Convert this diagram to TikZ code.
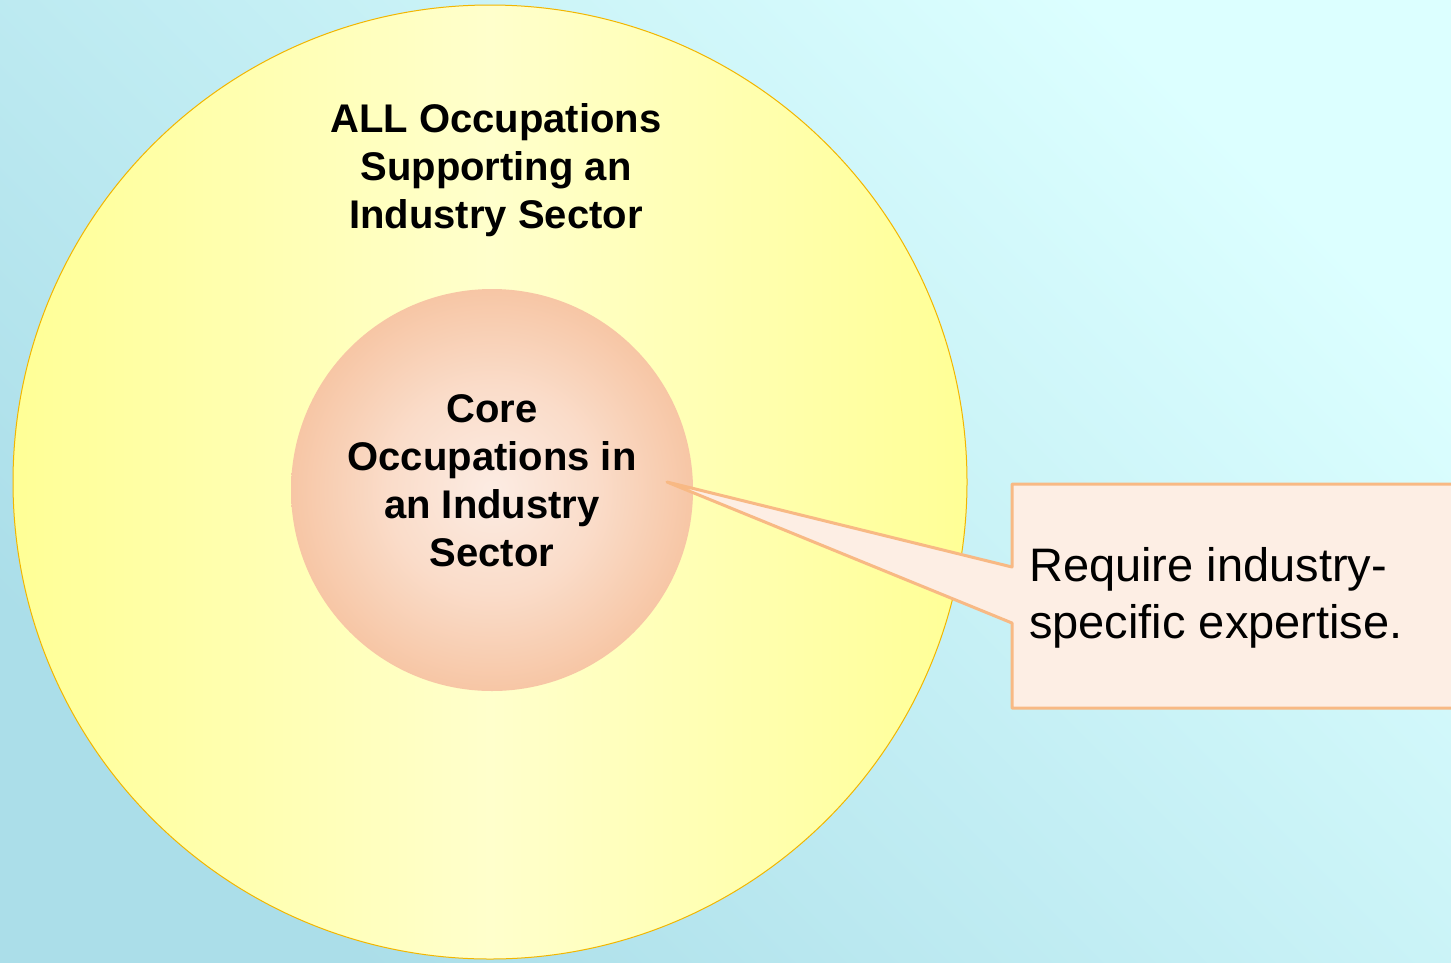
\documentclass[tikz,border=0pt]{standalone}
\usepackage{fontspec}
\setmainfont{Liberation Sans}
\definecolor{bgdark}{HTML}{ABDEE9}
\definecolor{bglight}{HTML}{DCFFFF}
\definecolor{yedge}{HTML}{FFFF96}
\definecolor{ymid}{HTML}{FFFFCC}
\definecolor{yline}{HTML}{F2B600}
\definecolor{pedge}{HTML}{F7C6A5}
\definecolor{pmid}{HTML}{FCECE3}
\definecolor{pmidb}{HTML}{FADCC9}
\definecolor{cfill}{HTML}{FDEEE4}
\definecolor{cline}{HTML}{F8B984}
\pgfdeclareradialshading{innerrad}{\pgfpoint{0bp}{0bp}}{color(0bp)=(pmid); color(13bp)=(pmidb); color(25bp)=(pedge); color(50bp)=(pedge)}
\tikzset{
  bigtext/.style={align=center, inner sep=0pt, font=\bfseries\fontsize{40}{48}\selectfont},
  calltext/.style={align=left, inner sep=0pt, font=\fontsize{47}{57}\selectfont},
}
\begin{document}
\begin{tikzpicture}[x=1pt,y=-1pt]
\useasboundingbox (0,0) rectangle (1451,962);
\shade[top color=bglight, bottom color=bgdark, shading angle=-45] (0,0) rectangle (1451,962);
\node[circle, minimum size=954pt, inner sep=0pt, draw=yline, line width=1pt,
      left color=yedge, right color=yedge, middle color=ymid] (outer) at (490,482) {};
\node[circle, minimum size=402pt, inner sep=0pt, shading=innerrad] (inner) at (492,490) {};
\node[bigtext] (alltext) at (496,170) {ALL Occupations\\Supporting an\\Industry Sector};
\node[bigtext] (coretext) at (492,481) {Core\\Occupations in\\an Industry\\Sector};
\coordinate (tip) at (667,482);
\draw[cline, fill=cfill, line width=3pt, line join=round]
  (1012,567) -- (1012,484) -- (1470,484) -- (1470,708) -- (1012,708) -- (1012,623) -- (tip) -- cycle;
\node[calltext, anchor=north west] (calltext) at (1029,547) {Require industry-\\specific expertise.};
\end{tikzpicture}
\end{document}
